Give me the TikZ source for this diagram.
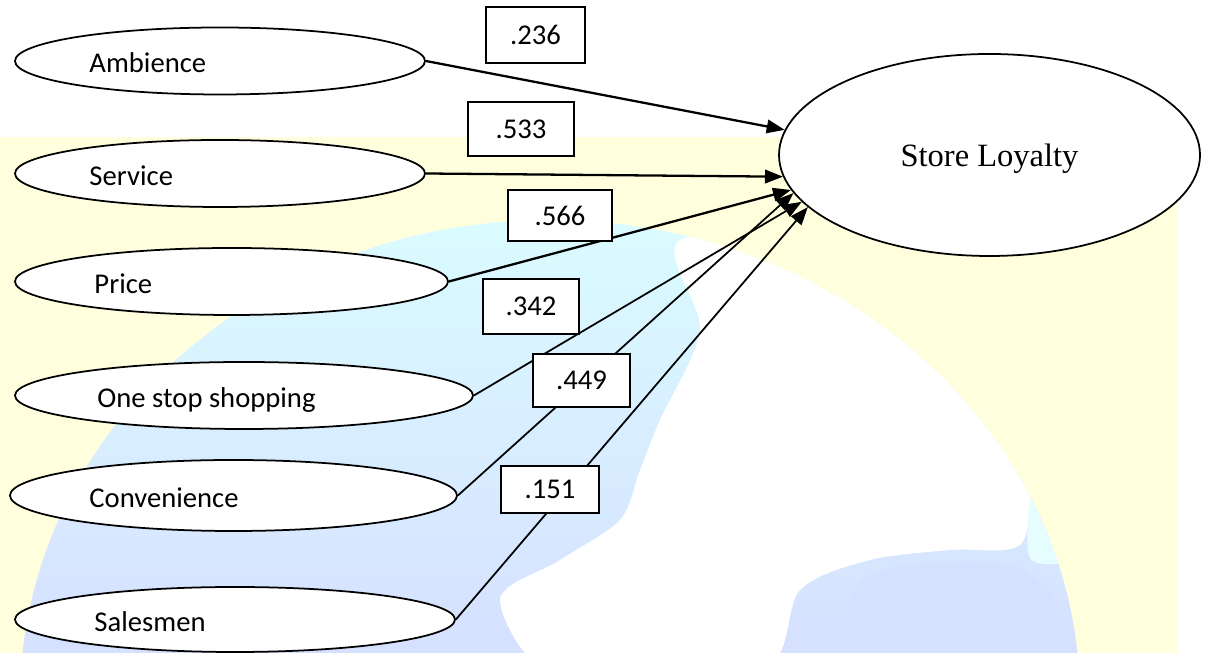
\documentclass[tikz,border=0pt]{standalone}
\usepackage{fontspec}
\setmainfont{Carlito}
\newfontfamily\fuenteserif{Liberation Serif}
\usetikzlibrary{shapes.geometric, arrows.meta}

\definecolor{fondoam}{RGB}{255,255,222}
\definecolor{globoaz}{RGB}{214,224,255}
\definecolor{globoci}{RGB}{218,252,255}

\begin{document}
\begin{tikzpicture}[
    constr/.style = {
        ellipse,
        draw,
        fill       = white,
        line width = 1.0pt,
        inner sep  = 0pt
    },
    etiq/.style = {
        font      = \fontsize{16.3}{19}\selectfont,
        inner sep = 0pt,
        anchor    = base west
    },
    coef/.style = {
        rectangle,
        draw,
        fill       = white,
        line width = 0.9pt,
        inner sep  = 0pt,
        font       = \fontsize{16.3}{19}\selectfont
    },
    flecha/.style = {
        -{Triangle[length=0.36cm, width=0.27cm]}
    }
]

\useasboundingbox (0,0) rectangle (24.2,13.06);

% ================================================================
%  FONDO (banda amarilla + globo de marca de agua)
% ================================================================

\fill[fondoam] (0,0) rectangle (23.56,10.32);
\begin{scope}
    \clip (0,0) rectangle (23.56,10.32);
    \clip (11.0,-0.94) ellipse (10.6 and 9.6);
    \shade[top color=globoci, bottom color=globoaz] (0,0) rectangle (23.56,8.8);
    % zona clara (continente)
    \fill[white] plot[smooth cycle] coordinates {
        (13.6,8.26) (17.0,8.40) (22.2,8.00) (22.4,3.66) (20.8,3.46)
        (20.4,2.16) (19.0,2.06) (17.4,1.86) (16.0,1.26) (15.2,-0.40)
        (11.2,-0.50) (10.0,1.06) (11.2,1.86) (12.4,2.66) (12.8,3.66)
        (13.2,4.66) (14.0,6.46)};
    % manchas azules
    \fill[globoaz] plot[smooth cycle] coordinates {
        (16.8,-0.3) (17.2,1.4) (18.6,1.8) (20.4,1.7) (21.2,0.8) (21.0,-0.3)};
    \fill[globoci!70!white] plot[smooth cycle] coordinates {
        (20.6,1.9) (20.7,3.5) (21.4,3.7) (21.6,2.0)};
\end{scope}

% ================================================================
%  CONSTRUCTOS (elipses)  nombre / x / y / ancho / alto / margen / texto
% ================================================================

\foreach \nm/\x/\y/\w/\h/\dx/\txt in {
    amb/4.40/11.84/8.20/1.34/1.50/Ambience,
    ser/4.40/9.59/8.20/1.34/1.50/Service,
    pri/4.63/7.43/8.66/1.34/1.60/Price,
    one/4.88/5.15/9.16/1.34/1.66/One stop shopping,
    con/4.67/3.15/8.94/1.42/1.60/Convenience,
    sal/4.70/0.67/8.80/1.30/1.60/Salesmen}{
    \node[constr, minimum width=\w cm, minimum height=\h cm] (\nm) at (\x,\y) {};
    \node[etiq] (\nm-t) at ([xshift=\dx cm, yshift=-0.24cm]\nm.west) {\txt};
}

% Variable dependiente
\node[constr, minimum width=8.42cm, minimum height=4.04cm, text height=0.6cm,
      font=\fuenteserif\fontsize{18.5}{22}\selectfont] (sl) at (19.79,9.96)
    {Store Loyalty};

% ================================================================
%  FLECHAS (hacia el borde de la elipse, ángulo en grados)
% ================================================================

\foreach \nm/\ang/\lw in {amb/173/1.3, ser/186/1.3, pri/190/1.3,
                          con/191/1.0, one/194/1.0, sal/196/1.0}{
    \draw[flecha, line width=\lw pt] (\nm.east) -- (sl.\ang);
}

% ================================================================
%  COEFICIENTES (cajas encima de las flechas)
% ================================================================

\foreach \nm/\x/\y/\w/\h/\val in {
    amb/10.71/12.36/1.98/1.12/.236,
    ser/10.42/10.48/2.12/1.08/.533,
    pri/11.20/8.75/2.08/1.02/.566,
    one/10.62/6.93/1.92/1.10/.342,
    con/11.63/5.45/1.94/1.06/.449,
    sal/11.00/3.27/1.96/0.94/.151}{
    \node[coef, minimum width=\w cm, minimum height=\h cm] (c-\nm) at (\x,\y) {\val};
}

\end{tikzpicture}
\end{document}
